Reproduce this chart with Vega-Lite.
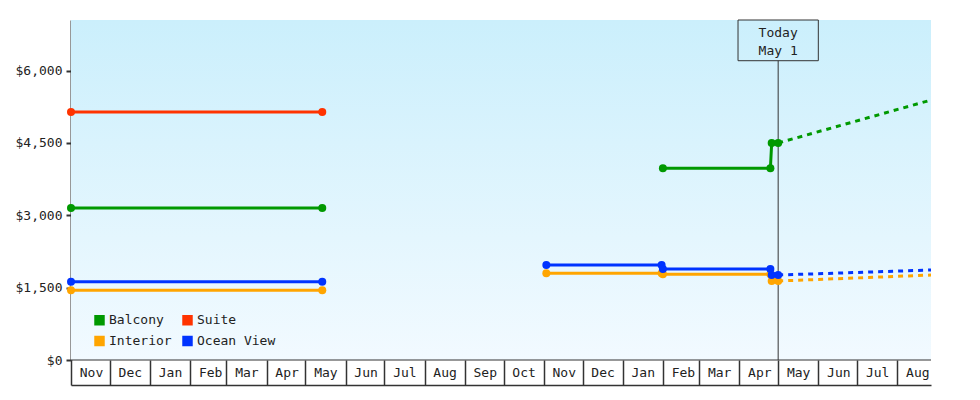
{
  "$schema": "https://vega.github.io/schema/vega-lite/v6.json",
  "width": 860,
  "height": 340,
  "autosize": {"type": "none"},
  "padding": {"left": 71, "top": 20, "right": 49, "bottom": 40},
  "background": "white",
  "config": {
    "view": {"stroke": null},
    "font": "DejaVu Sans Mono",
    "axisX": {
      "domainColor": "#333333", "domainWidth": 1.5,
      "tickColor": "#333333", "tickWidth": 1.5, "tickSize": -25,
      "labelPadding": 6, "labelOffset": 20, "labelFontSize": 13,
      "labelColor": "#222222", "labelFont": "DejaVu Sans Mono",
      "labelFlush": false, "labelOverlap": false, "grid": false,
      "labelAlign": "center", "labelBaseline": "top"
    },
    "axisY": {
      "domainColor": "#333333", "domainWidth": 2,
      "tickColor": "#333333", "tickWidth": 2, "tickSize": 5,
      "labelPadding": 4, "labelFontSize": 13, "labelColor": "#222222",
      "labelFont": "DejaVu Sans Mono", "grid": false
    },
    "legend": {
      "orient": "none", "legendX": 22, "legendY": 293.5, "columns": 2,
      "symbolType": "square", "symbolSize": 110, "symbolStrokeWidth": 0,
      "labelFontSize": 13, "labelFont": "DejaVu Sans Mono", "labelColor": "#222222",
      "rowPadding": 7, "columnPadding": 9, "labelOffset": 3, "padding": 0
    }
  },
  "data": {
    "values": [
      {"date": "2017/11/01", "price": 5140, "cabin": "Suite", "seg": "s1", "kind": "actual"},
      {"date": "2018/05/14", "price": 5140, "cabin": "Suite", "seg": "s1", "kind": "actual"},
      {"date": "2017/11/01", "price": 3150, "cabin": "Balcony", "seg": "b1", "kind": "actual"},
      {"date": "2018/05/14", "price": 3150, "cabin": "Balcony", "seg": "b1", "kind": "actual"},
      {"date": "2017/11/01", "price": 1445, "cabin": "Interior", "seg": "i1", "kind": "actual"},
      {"date": "2018/05/14", "price": 1445, "cabin": "Interior", "seg": "i1", "kind": "actual"},
      {"date": "2017/11/01", "price": 1625, "cabin": "Ocean View", "seg": "o1", "kind": "actual"},
      {"date": "2018/05/14", "price": 1625, "cabin": "Ocean View", "seg": "o1", "kind": "actual"},
      {"date": "2019/02/01", "price": 3975, "cabin": "Balcony", "seg": "b2", "kind": "actual"},
      {"date": "2019/04/25", "price": 3975, "cabin": "Balcony", "seg": "b2", "kind": "actual"},
      {"date": "2019/04/26", "price": 4500, "cabin": "Balcony", "seg": "b2", "kind": "actual"},
      {"date": "2019/05/01", "price": 4500, "cabin": "Balcony", "seg": "b2", "kind": "actual"},
      {"date": "2018/11/03", "price": 1798, "cabin": "Interior", "seg": "i2", "kind": "actual"},
      {"date": "2019/01/31", "price": 1798, "cabin": "Interior", "seg": "i2", "kind": "actual"},
      {"date": "2019/02/01", "price": 1777, "cabin": "Interior", "seg": "i2", "kind": "actual"},
      {"date": "2019/04/25", "price": 1777, "cabin": "Interior", "seg": "i2", "kind": "actual"},
      {"date": "2019/04/26", "price": 1638, "cabin": "Interior", "seg": "i2", "kind": "actual"},
      {"date": "2019/05/01", "price": 1638, "cabin": "Interior", "seg": "i2", "kind": "actual"},
      {"date": "2018/11/03", "price": 1970, "cabin": "Ocean View", "seg": "o2", "kind": "actual"},
      {"date": "2019/01/31", "price": 1970, "cabin": "Ocean View", "seg": "o2", "kind": "actual"},
      {"date": "2019/02/01", "price": 1887, "cabin": "Ocean View", "seg": "o2", "kind": "actual"},
      {"date": "2019/04/25", "price": 1887, "cabin": "Ocean View", "seg": "o2", "kind": "actual"},
      {"date": "2019/04/26", "price": 1762, "cabin": "Ocean View", "seg": "o2", "kind": "actual"},
      {"date": "2019/05/01", "price": 1762, "cabin": "Ocean View", "seg": "o2", "kind": "actual"},
      {"date": "2019/05/01", "price": 4500, "cabin": "Balcony", "seg": "bf", "kind": "forecast"},
      {"date": "2019/08/27", "price": 5390, "cabin": "Balcony", "seg": "bf", "kind": "forecast"},
      {"date": "2019/05/01", "price": 1638, "cabin": "Interior", "seg": "if", "kind": "forecast"},
      {"date": "2019/08/27", "price": 1762, "cabin": "Interior", "seg": "if", "kind": "forecast"},
      {"date": "2019/05/01", "price": 1762, "cabin": "Ocean View", "seg": "of", "kind": "forecast"},
      {"date": "2019/08/27", "price": 1866, "cabin": "Ocean View", "seg": "of", "kind": "forecast"}
    ]
  },
  "layer": [
    {
      "data": {"values": [{}]},
      "mark": {
        "type": "rect",
        "fill": {
          "gradient": "linear", "x1": 0, "y1": 0, "x2": 0, "y2": 1,
          "stops": [{"offset": 0, "color": "#cbeffc"}, {"offset": 1, "color": "#f2faff"}]
        }
      },
      "encoding": {
        "x": {"datum": {"year": 2017, "month": 11, "date": 1}, "type": "temporal",
              "scale": {"domain": [{"year": 2017, "month": 11, "date": 1}, {"year": 2019, "month": 8, "date": 27}], "nice": false}},
        "x2": {"datum": {"year": 2019, "month": 8, "date": 27}},
        "y": {"datum": 0, "type": "quantitative", "scale": {"domain": [0, 7050], "nice": false}},
        "y2": {"datum": 7050}
      }
    },
    {
      "data": {"values": [{}]},
      "mark": {"type": "rule", "color": "#333333", "strokeWidth": 1},
      "encoding": {"y": {"datum": 0, "type": "quantitative"}}
    },
    {
      "data": {"values": [{}]},
      "mark": {"type": "rule", "color": "#333333", "strokeWidth": 1},
      "encoding": {
        "x": {"datum": {"year": 2019, "month": 5, "date": 1}, "type": "temporal"},
        "y": {"datum": 0, "type": "quantitative"},
        "y2": {"datum": 6206}
      }
    },
    {
      "data": {"values": [{}]},
      "mark": {"type": "rect", "fill": null, "fillOpacity": 0, "stroke": "#333333", "strokeWidth": 1},
      "encoding": {
        "x": {"datum": {"year": 2019, "month": 3, "date": 31}, "type": "temporal"},
        "x2": {"datum": {"year": 2019, "month": 6, "date": 1}},
        "y": {"datum": 6206, "type": "quantitative"},
        "y2": {"datum": 7050}
      }
    },
    {
      "data": {"values": [{}]},
      "mark": {"type": "text", "text": ["Today", "May 1"], "lineHeight": 18, "fontSize": 13,
               "font": "DejaVu Sans Mono", "color": "#222222", "align": "center", "baseline": "middle"},
      "encoding": {
        "x": {"datum": {"year": 2019, "month": 5, "date": 1}, "type": "temporal"},
        "y": {"datum": 6780, "type": "quantitative"}
      }
    },
    {
      "transform": [{"filter": "datum.kind === 'forecast'"}],
      "mark": {"type": "line", "strokeWidth": 3, "strokeDash": [5, 5]},
      "encoding": {
        "x": {"field": "date", "type": "temporal"},
        "y": {"field": "price", "type": "quantitative"},
        "color": {"field": "cabin", "type": "nominal"},
        "detail": {"field": "seg"}
      }
    },
    {
      "transform": [{"filter": "datum.kind === 'actual'"}],
      "mark": {"type": "line", "strokeWidth": 3, "point": {"filled": true, "size": 64}},
      "encoding": {
        "x": {"field": "date", "type": "temporal", "title": null,
              "axis": {"offset": 25, "format": "%b", "tickCount": {"interval": "month", "step": 1}, "title": null}},
        "y": {"field": "price", "type": "quantitative", "title": null,
              "axis": {"values": [0, 1500, 3000, 4500, 6000], "format": "$,.0f", "title": null}},
        "color": {
          "field": "cabin", "type": "nominal",
          "scale": {"domain": ["Balcony", "Interior", "Suite", "Ocean View"],
                    "range": ["#009900", "#ffa500", "#ff3300", "#0033ff"]},
          "legend": {"title": null,
                     "encode": {"symbols": {"update": {"fill": {"scale": "color", "field": "value"}, "strokeWidth": {"value": 0}}}}}
        },
        "detail": {"field": "seg"}
      }
    }
  ]
}
